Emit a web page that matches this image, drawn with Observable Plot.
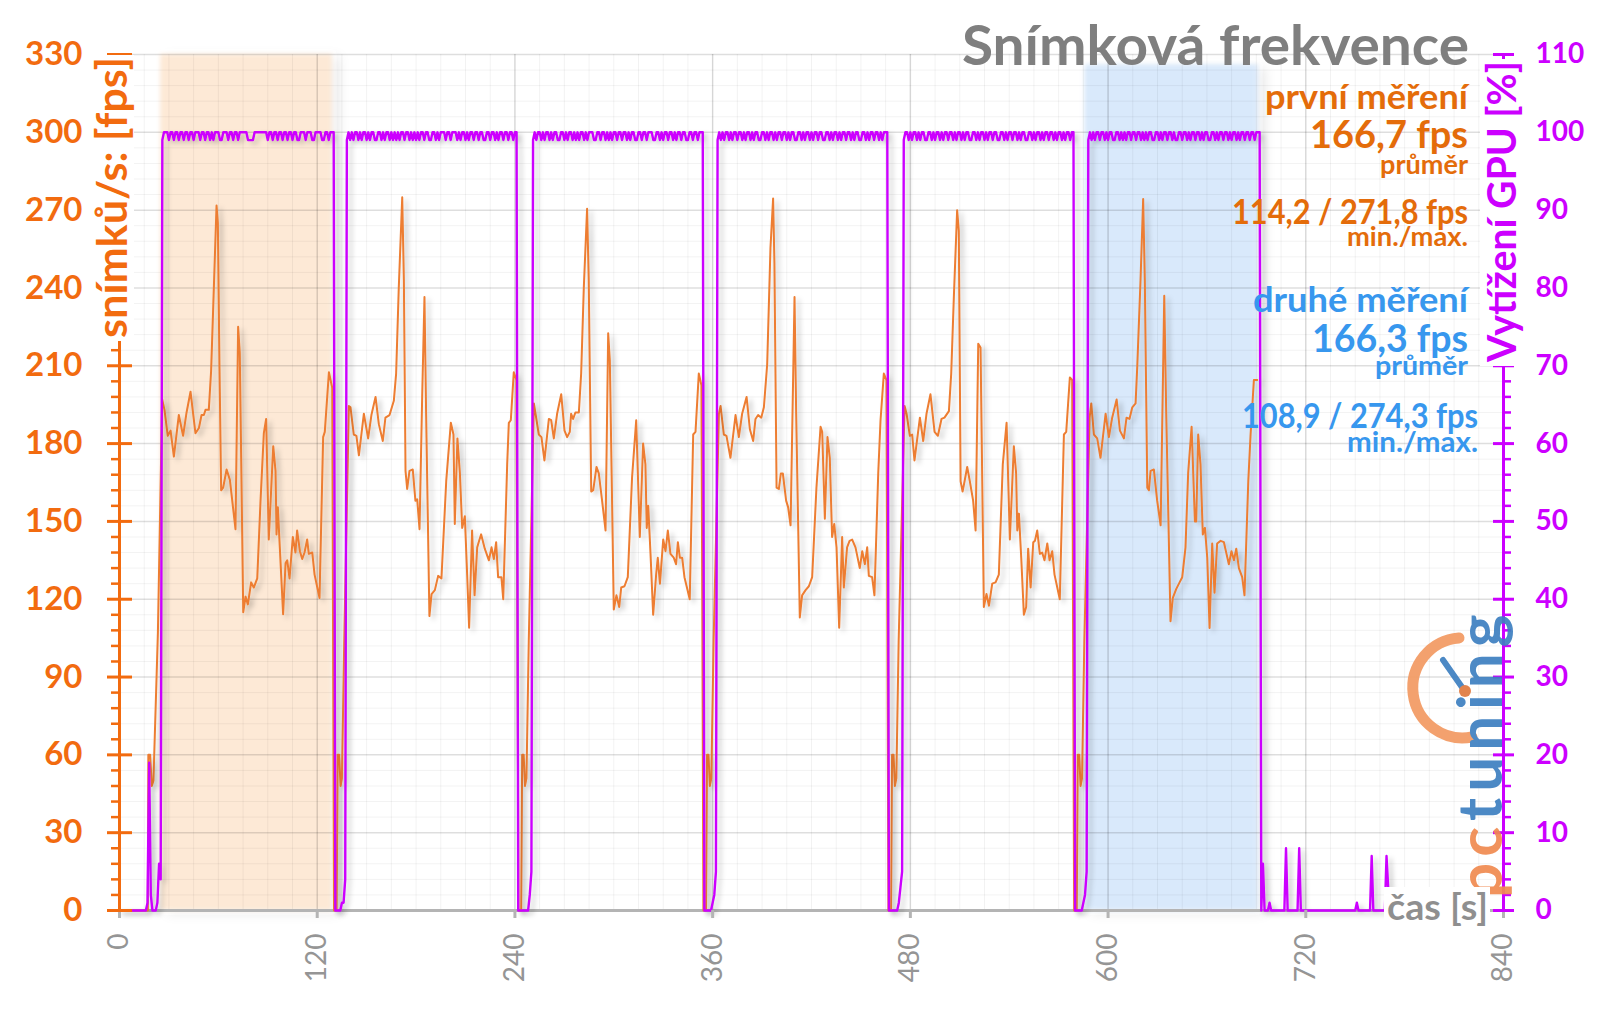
<!DOCTYPE html>
<html><head><meta charset="utf-8">
<script src="https://cdn.jsdelivr.net/npm/d3@7"></script>
<script src="https://cdn.jsdelivr.net/npm/@observablehq/plot@0.6"></script>
<style>html,body{margin:0;padding:0;background:#fff;overflow:hidden} svg{display:block}</style>
</head><body><div id="chart"></div>
<script>
// ---------------- DATA ----------------
const timeTicks = [0, 120, 240, 360, 480, 600, 720, 840];
const fpsTicks = [0, 30, 60, 90, 120, 150, 180, 210, 240, 270, 300, 330];
const gpuTicks = [0, 10, 20, 30, 40, 50, 60, 70, 80, 90, 100, 110];

const titleText = "Snímková frekvence";
const leftAxisLabel = "snímků/s: [fps]";
const rightAxisLabel = "Vytížení GPU [%]";
const bottomAxisLabel = "čas [s]";
const firstNotes = ["první měření", "166,7 fps", "průměr", "114,2 / 271,8 fps", "min./max."];
const secondNotes = ["druhé měření", "166,3 fps", "průměr", "108,9 / 274,3 fps", "min./max."];
const logoParts = ["pc", "tuning"];

// highlighted measurement windows [s]
const bandStart = [25, 586];
const bandEnd = [129, 691];
const bandTop = [330, 326];

// frame rate [t (s), fps]
const fpsPre = [[0,0],[17.2,0],[17.5,60],[18.6,60],[19.6,48],[20.6,50],[23.3,107]];
const fpsRun1 = [[25.9,197],[27.3,193],[29.3,183],[31,185],[33,175],[36,191],[38.6,183],[40.7,192],[43.1,200],[46.1,184],[48.2,186],[49.8,191],[51.2,191],[52.2,193],[54.2,193],[55.6,208],[56.9,233],[58.9,271.8],[59.7,265],[60.7,209],[61.7,162],[62.9,163],[65,170],[67,166],[70.4,147],[72,225],[73,215],[75.1,115],[76.5,121],[77.9,118],[79.9,126.5],[81.5,124.5],[83.6,128],[85.6,158],[87.6,184],[89,189.5],[90.6,143],[93.3,179],[94.7,169.5],[95.3,145],[96.1,155.5],[97.3,140],[99.3,114.2],[100.8,134],[101.8,135],[103.2,128],[105.2,144],[106.8,138],[107.8,146.5],[109.5,138.5],[110.9,135.5],[112.3,138],[113.9,143],[114.9,137.5],[117,138],[118.4,129.5],[121.4,120.5],[123.6,182.5],[124.6,184.5],[127.1,207.5],[129.1,201.5]];
const fpsGap1 = [[130.2,0],[131.8,0],[132.4,60],[133.3,60],[134.2,48],[135,51],[136.4,104]];
const fpsRun2 = [[139.2,194.5],[140.2,194],[142.2,183.5],[143.8,183],[145.3,175.5],[148.3,191.5],[150.9,182],[152.9,191],[155.4,198],[157.4,187.5],[159.8,181],[161.4,190],[163.9,191],[166.5,196.5],[167.9,207],[169.5,240],[171.6,275],[172.6,243],[173.6,169.5],[174.6,162.5],[176,169.5],[178,170],[179.6,158],[180.7,158.5],[182.1,147],[183.7,198],[185.1,236.5],[186.1,191.5],[188.1,113.5],[189.4,122],[191.4,123.5],[193.4,129],[195.4,128],[198.3,165.5],[201.1,188],[202.7,183.5],[203.5,149],[205.1,182],[206.6,168.5],[208,147.5],[209.6,152],[211,129.5],[212.2,109],[214,146.5],[215.5,121.5],[217.1,140],[218.5,143],[219.5,145],[221.7,139.5],[224.2,135],[225.8,140],[227.2,135.5],[228.6,142],[229.8,128.5],[231.8,128.5],[232.9,120],[235.3,172],[236.3,188],[237.5,189],[239.3,207.5],[240.9,204.5]];
const fpsGap2 = [[242.2,0],[243.8,0],[244.4,60],[245.3,60],[246.1,48],[247,51],[248.4,104]];
const fpsRun3 = [[251.5,195.5],[252.5,191.5],[254.5,183.5],[256.1,182.5],[257.9,173.5],[260.6,189.5],[262,189],[263.6,182],[265.6,191.5],[268.1,199],[270.1,185],[271.7,182.5],[273.3,184.5],[274.1,191.5],[275.3,189.5],[276.7,192],[278.8,192],[280.2,207],[281.8,240],[283.8,270.5],[284.8,243],[286.3,161.5],[287.5,162],[289.5,171],[290.9,168.5],[292.9,158],[295,146.5],[296.6,222.5],[297.6,212],[300,116],[301.6,121.5],[303.3,117],[304.5,124.5],[306.5,125],[308.5,128.5],[311.1,167],[313.6,189],[315.8,144],[317.8,180],[319.2,172],[320,147.5],[320.9,156],[322.3,137.5],[323.9,114],[325.7,129.5],[326.7,136],[328,126],[330,143],[331.4,138.5],[332.8,146.5],[334.4,137.5],[336.4,136],[337.8,133.5],[338.9,142],[340.1,136],[341.5,136],[342.9,128.5],[346.1,120],[348.2,183.5],[349.6,184.5],[351.6,207],[353.2,202.5]];
const fpsGap3 = [[354.4,0],[356,0],[356.6,60],[357.5,60],[358.3,48],[359.2,51],[360.6,104]];
const fpsRun4 = [[363.8,191.5],[364.8,194.5],[366.8,183.5],[368.4,183],[370.8,174.5],[373.9,191],[375.9,182.5],[377.9,191.5],[380.6,198],[382.6,185.5],[384.6,181],[386,189.5],[387.6,191],[389.5,190],[391.1,194],[393.1,210.5],[395.1,255.5],[396.7,274.5],[397.5,249.5],[398.8,163],[400.2,162.5],[401.4,168.5],[402.6,168.5],[404.6,158],[405.8,155.5],[407.3,148.5],[409.7,236.5],[410.7,191.5],[412.9,113],[414.3,121.5],[416.4,123.5],[418.4,125],[420.4,128.5],[423,163],[425.5,186.5],[426.5,184.5],[428.1,151],[429.7,182.5],[431.1,174.5],[432.5,144],[433.8,149],[435.2,140],[436.8,109],[438.6,144],[439.6,124.5],[441.6,140],[443.1,142.5],[444.7,143],[446.7,140],[449.3,132],[450.8,138.5],[452.4,133.5],[453.8,140],[454.8,129],[456.8,128.5],[458.2,121.5],[460.5,168.5],[461.9,189],[463.9,207],[465.5,204.5]];
const fpsGap4 = [[466.7,0],[468.3,0],[468.9,60],[469.8,60],[470.6,48],[471.5,51],[472.9,104]];
const fpsRun5 = [[476.5,194.5],[477.7,191.5],[479.7,183],[481.1,183.5],[482.5,173.5],[485.8,190],[487.8,181],[489.8,191.5],[492.2,199],[494.7,184.5],[496.7,183],[498.9,189.5],[500.7,190],[503.4,192.5],[504.8,207],[506.4,236.5],[508.4,270],[509.4,262],[510.5,165.5],[511.7,161.5],[512.9,165.5],[514.5,171],[516.1,165.5],[518.1,158],[519.6,146.5],[521.2,218.5],[522.6,217],[524.6,117],[526.2,122],[527.7,117.5],[529.7,126],[531.7,126.5],[533.7,129.5],[536.1,172],[538.4,188],[540.4,143],[542.8,179],[544.2,168.5],[544.9,146.5],[545.9,153],[547.3,136],[548.9,114],[550.3,117],[551.5,139.5],[553,124.5],[554.6,142],[555.6,142.5],[557,146.5],[558.6,137.5],[560,138],[561.4,135],[563.1,141.5],[564.5,135],[566.1,138.5],[567.5,129.5],[570.7,120],[573.2,183.5],[574.6,184.5],[576.8,205.5],[578.2,204.5]];
const fpsGap5 = [[579.4,0],[581,0],[581.6,60],[582.5,60],[583.3,48],[584.2,51],[585.6,104]];
const fpsRun6 = [[588.8,190],[589.8,195.5],[591.4,183.5],[593.4,182],[595.4,174.5],[598.5,191.5],[600.5,182.5],[602.5,190],[605.2,197],[607.2,185],[609.6,182],[611.2,190],[613,189.5],[614.7,194],[616.7,195.5],[617.7,209.5],[619.7,243],[621.3,274.3],[622.3,243],[623.8,163],[624.8,162],[625.8,169.5],[627.8,170],[629.8,158],[631.9,148.5],[634.1,237],[635.3,191.5],[637.9,111.5],[639.3,120.5],[641.4,124],[643.4,126.5],[645,128.5],[647,140],[648.6,168.5],[650.7,186.5],[652.7,150],[653.5,150],[654.7,183.5],[656.1,172],[657.5,145],[658.8,147.5],[660.2,136],[661.6,108.9],[663.2,141.5],[664.6,122.5],[666.2,141.5],[668.3,142.5],[670.3,142],[673.3,133.5],[674.9,138.5],[676.4,135],[677.8,139.5],[679.4,132],[681.4,128.5],[682.8,121.5],[685.1,165.5],[686.5,183.5],[688.5,204.5],[690.5,204.5]];

// GPU utilisation [%], one value per second, each segment starting at the given second
const gpuSegmentStart = [0, 26, 131, 138, 242, 251, 355, 363, 467, 476, 580, 588, 693];
const gpuPre = [0,0,0,0,0,0,0,0,0,0, 0,0,0,0,0,0,0,1,19,2, 0,0,0,1,6,4];
const gpuRun1 = [99,100,100,100,99,100,100,99,100,100, 99,100,100,99,100,100,99,100,100,99, 100,100,100,99,100,100,99,100,100,99, 100,99,100,100,100,99,99,100,100,100, 99,100,100,99,100,100,99,100,100,100, 100,100,99,99,99,99,100,100,100,100, 100,100,100,100,99,100,100,99,100,100, 99,100,100,99,100,100,99,100,100,99, 100,100,99,99,100,100,100,99,100,100, 100,99,99,100,100,100,100,99,99,100, 100,99,100,100,100];
const gpuGap1 = [0,0,0,0,1,1,4];
const gpuRun2 = [99,100,99,100,99,100,100,99,100,99, 100,100,99,100,99,100,100,99,99,100, 100,99,100,99,100,100,99,100,99,100, 99,100,99,100,100,99,100,100,99,100, 99,100,99,100,99,100,100,99,100,100, 99,99,100,100,99,100,99,100,100,100, 99,100,100,99,100,100,100,99,100,99, 100,100,99,100,99,100,100,99,100,100, 99,100,100,99,99,100,100,99,100,100, 99,100,99,100,100,99,100,100,99,100, 100,99,100,100];
const gpuGap2 = [0,0,0,0,0,0,0,2,5];
const gpuRun3 = [99,100,99,100,100,99,100,99,100,100, 99,100,99,100,100,99,99,100,100,99, 100,99,100,100,99,100,99,100,99,100, 100,99,100,99,100,100,100,99,99,100, 100,99,100,100,99,100,99,100,99,100, 100,99,100,100,99,100,100,99,100,99, 100,100,99,99,100,100,99,100,100,99, 100,100,100,99,99,100,100,99,100,99, 100,100,99,100,100,99,100,99,100,100, 99,100,100,99,99,100,100,99,100,100, 99,100,100,100];
const gpuGap3 = [0,0,0,0,0,1,2,5];
const gpuRun4 = [99,100,99,100,99,100,100,99,100,99, 100,100,99,100,100,99,100,99,100,100, 99,100,99,100,100,99,99,100,100,99, 100,99,100,100,99,100,99,100,100,99, 100,100,99,100,99,100,100,99,99,100, 100,99,100,99,100,100,99,100,99,100, 100,99,100,100,99,99,100,100,99,100, 99,100,100,99,100,99,100,100,99,100, 100,99,100,99,100,100,99,99,100,100, 99,100,99,100,100,99,100,100,99,100, 99,100,100,100];
const gpuGap4 = [0,0,0,0,0,0,1,3,5];
const gpuRun5 = [99,100,100,99,100,99,100,100,99,100, 99,100,100,99,99,100,100,99,100,99, 100,100,99,100,99,100,100,99,100,100, 99,100,99,100,100,99,100,99,100,100, 99,99,100,100,99,100,99,100,100,99, 100,99,100,100,99,100,100,99,99,100, 100,99,100,99,100,100,99,100,100,99, 100,99,100,100,99,99,100,100,99,100, 99,100,100,99,100,99,100,100,99,100, 100,99,100,99,100,100,99,100,99,100, 100,99,100,100];
const gpuGap5 = [0,0,0,0,0,1,2,5];
const gpuRun6 = [99,100,99,100,99,100,100,99,100,100, 99,100,99,100,100,99,99,100,100,99, 100,99,100,99,100,100,99,100,100,99, 100,100,99,100,99,100,99,100,100,99, 99,100,100,99,100,99,100,100,99,100, 100,99,100,99,99,100,100,99,100,100, 99,100,99,100,100,99,100,100,99,100, 99,100,100,99,99,100,100,99,100,99, 100,100,99,100,100,99,100,99,100,100, 99,100,99,100,100,99,100,100,99,100, 100,99,100,100,100];
const gpuPost = [0,6,0,0,0,1,0,0,0,0, 0,0,0,0,0,8,0,0,0,0, 0,0,0,8,0,0,0,0,0,0, 0,0,0,0,0,0,0,0,0,0, 0,0,0,0,0,0,0,0,0,0, 0,0,0,0,0,0,0,0,1,0, 0,0,0,0,0,0,0,7,0,0, 0,0,0,0,0,0,7,3];

// ---------------- BUILD ----------------
const fpsSeries = [fpsPre, fpsRun1, fpsGap1, fpsRun2, fpsGap2, fpsRun3, fpsGap3, fpsRun4, fpsGap4, fpsRun5, fpsGap5, fpsRun6]
  .flat().map(([t, v]) => ({t, v}));
const gpuSegments = [gpuPre, gpuRun1, gpuGap1, gpuRun2, gpuGap2, gpuRun3, gpuGap3, gpuRun4, gpuGap4, gpuRun5, gpuGap5, gpuRun6, gpuPost];
const gpuSeries = gpuSegments.flatMap((arr, k) => arr.map((v, i) => ({t: gpuSegmentStart[k] + i, v})));
const gpuFactor = 330 / 110;
const bands = bandStart.map((s, i) => ({s, e: bandEnd[i], top: bandTop[i]}));

const xMinor = d3.range(0, 841, 15);
const yMinor = d3.range(0, 331, 6).filter(v => v % 30 !== 0);
const gpuAsFps = gpuTicks.map(v => v * gpuFactor);

const ORANGE_LINE = "#ed7d31", ORANGE_AXIS = "#f26b0f", ORANGE_TEXT = "#e46c0a";
const MAGENTA = "#cc00ff", BLUE_TEXT = "#3797ee", GRAY_TXT = "#959595", AXIS_GRAY = "#b4b4b4";
const noText = () => "";

const svg = Plot.plot({
  width: 1600, height: 1010,
  marginLeft: 119, marginRight: 97, marginTop: 54, marginBottom: 100,
  x: {domain: [0, 840], axis: null, label: null},
  y: {domain: [0, 330], axis: null, label: null},
  style: {fontFamily: "Lato, 'Open Sans', sans-serif", background: "white", overflow: "visible"},
  marks: [
    Plot.rect([bands[0]], {x1: "s", x2: "e", y1: 0, y2: "top", fill: "#fde9d6"}),
    Plot.rect([bands[1]], {x1: "s", x2: "e", y1: 0, y2: "top", fill: "#d9e9fb"}),
    Plot.ruleY(yMinor, {stroke: "#000", strokeOpacity: 0.05, strokeWidth: 1}),
    Plot.ruleX(xMinor, {stroke: "#000", strokeOpacity: 0.05, strokeWidth: 1}),
    Plot.ruleY(fpsTicks, {stroke: "#000", strokeOpacity: 0.13, strokeWidth: 1.5}),
    Plot.ruleX(timeTicks, {stroke: "#000", strokeOpacity: 0.12, strokeWidth: 1.5}),
    Plot.ruleY([0], {stroke: AXIS_GRAY, strokeWidth: 3}),
    Plot.ruleX([0], {stroke: ORANGE_AXIS, strokeWidth: 3}),
    Plot.ruleX([840], {stroke: MAGENTA, strokeWidth: 3}),
    Plot.line(fpsSeries, {x: "t", y: "v", stroke: ORANGE_LINE, strokeWidth: 2}),
    Plot.line(gpuSeries, {x: "t", y: d => d.v * gpuFactor, stroke: MAGENTA, strokeWidth: 2.4}),
    // bottom axis
    Plot.axisX(timeTicks, {anchor: "bottom", tickSize: 8, tickFormat: noText, stroke: AXIS_GRAY, strokeWidth: 3, label: null}),
    Plot.axisX(timeTicks, {anchor: "bottom", tickSize: 0, tickPadding: 23, tickRotate: -90, fontSize: 28, fill: GRAY_TXT, label: null}),
    // left axis
    Plot.axisY(yMinor, {anchor: "left", tickSize: 8, tickFormat: noText, stroke: ORANGE_AXIS, strokeWidth: 2.5, label: null}),
    Plot.axisY(fpsTicks, {anchor: "left", tickSize: 12, tickFormat: noText, stroke: ORANGE_AXIS, strokeWidth: 3, label: null}),
    Plot.axisY(fpsTicks, {anchor: "left", tickSize: 13, dx: 13, tickFormat: noText, stroke: ORANGE_AXIS, strokeWidth: 3, label: null}),
    Plot.axisY(fpsTicks, {anchor: "left", tickSize: 0, tickPadding: 37, fontSize: 33, fontWeight: "bold", fill: ORANGE_AXIS, label: null}),
    // right axis
    Plot.axisY(yMinor, {anchor: "right", tickSize: 7, tickFormat: noText, stroke: MAGENTA, strokeWidth: 2.5, label: null}),
    Plot.axisY(gpuAsFps, {anchor: "right", tickSize: 10, tickFormat: noText, stroke: MAGENTA, strokeWidth: 3, label: null}),
    Plot.axisY(gpuAsFps, {anchor: "right", tickSize: 11, dx: -11, tickFormat: noText, stroke: MAGENTA, strokeWidth: 3, label: null}),
    Plot.axisY(gpuAsFps, {anchor: "right", tickSize: 0, tickPadding: 32, tickFormat: d => d / gpuFactor, fontSize: 28, fontWeight: "bold", fill: MAGENTA, label: null})
  ]
});
document.getElementById("chart").appendChild(svg);

// ---------------- DECORATION ----------------
const root = d3.select(svg);
const defs = root.insert("defs", ":first-child");
const ls = defs.append("filter").attr("id", "lineShadow").attr("x", "-5%").attr("y", "-5%").attr("width", "110%").attr("height", "110%");
ls.append("feDropShadow").attr("dx", 4).attr("dy", 3).attr("stdDeviation", 2.5).attr("flood-color", "#000").attr("flood-opacity", 0.2);
const bf = defs.append("filter").attr("id", "bandFx").attr("x", "-10%").attr("y", "-10%").attr("width", "120%").attr("height", "120%");
bf.append("feGaussianBlur").attr("in", "SourceAlpha").attr("stdDeviation", 6).attr("result", "b1");
bf.append("feOffset").attr("in", "b1").attr("dx", 7).attr("dy", 3).attr("result", "off");
bf.append("feFlood").attr("flood-color", "#000").attr("flood-opacity", 0.1).attr("result", "fl");
bf.append("feComposite").attr("in", "fl").attr("in2", "off").attr("operator", "in").attr("result", "shadow");
bf.append("feGaussianBlur").attr("in", "SourceGraphic").attr("stdDeviation", 2).attr("result", "soft");
const bm = bf.append("feMerge");
bm.append("feMergeNode").attr("in", "shadow");
bm.append("feMergeNode").attr("in", "soft");

root.selectAll('g[aria-label="line"]').attr("filter", "url(#lineShadow)");
root.selectAll('g[aria-label="rect"]').attr("filter", "url(#bandFx)");

const ov = root.append("g").attr("font-family", "Lato, 'Open Sans', sans-serif").attr("font-weight", "bold");
function addText(g, str, x, y, size, len, fill, anchor) {
  const t = g.append("text").attr("x", x).attr("y", y).attr("font-size", size)
    .attr("fill", fill).attr("text-anchor", anchor || "end").text(str);
  if (len) t.attr("textLength", len).attr("lengthAdjust", "spacingAndGlyphs");
  return t;
}
function labelWithBg(g, str, x, y, size, len, fill, rotate) {
  const gg = g.append("g").attr("transform", `translate(${x},${y})` + (rotate ? " rotate(-90)" : ""));
  const rect = gg.append("rect").attr("fill", "white");
  const t = addText(gg, str, 0, 0, size, len, fill, "start");
  const b = t.node().getBBox();
  rect.attr("x", b.x - 3).attr("y", b.y + 3).attr("width", b.width + 5).attr("height", b.height - 5);
}

// pctuning logo (drawn first, under the texts)
const logo = ov.append("g").attr("opacity", 0.92);
logo.append("path").attr("d", "M 1459 638 A 50 50 0 1 0 1472 737")
  .attr("fill", "none").attr("stroke", "#f39a62").attr("stroke-width", 11).attr("stroke-linecap", "round");
logo.append("line").attr("x1", 1464).attr("y1", 690).attr("x2", 1443).attr("y2", 660)
  .attr("stroke", "#3d7fc1").attr("stroke-width", 6).attr("stroke-linecap", "round");
logo.append("circle").attr("cx", 1465).attr("cy", 691).attr("r", 6).attr("fill", "#e07a40");
const lt = logo.append("text").attr("transform", "translate(1502,898) rotate(-90)")
  .attr("x", 0).attr("y", 0).attr("text-anchor", "start")
  .attr("font-size", 62).attr("font-weight", "bold").attr("letter-spacing", 6);
lt.append("tspan").attr("fill", "#f08a50").text(logoParts[0]);
lt.append("tspan").attr("fill", "#3d7fc1").text(logoParts[1]);

// title + notes
addText(ov, titleText, 1469, 65, 56, 507, "#7f7f7f");
const firstLayout = [[1468, 109, 34, 203], [1468, 148, 39, 158], [1468, 174, 26, 88], [1468, 224, 34, 236], [1468, 246, 26, 121]];
const secondLayout = [[1468, 312, 34, 215], [1468, 352, 39, 156], [1468, 375, 27, 93], [1478, 428, 34, 236], [1478, 452, 28, 131]];
firstNotes.forEach((s, i) => { const [x, y, f, l] = firstLayout[i]; addText(ov, s, x, y, f, l, ORANGE_TEXT); });
secondNotes.forEach((s, i) => { const [x, y, f, l] = secondLayout[i]; addText(ov, s, x, y, f, l, BLUE_TEXT); });

// axis titles
labelWithBg(ov, leftAxisLabel, 127, 338, 42, 281, ORANGE_AXIS, true);
labelWithBg(ov, rightAxisLabel, 1516, 362, 40, 301, MAGENTA, true);
labelWithBg(ov, bottomAxisLabel, 1387, 920, 36, 101, "#8f8f8f", false);
</script></body></html>
